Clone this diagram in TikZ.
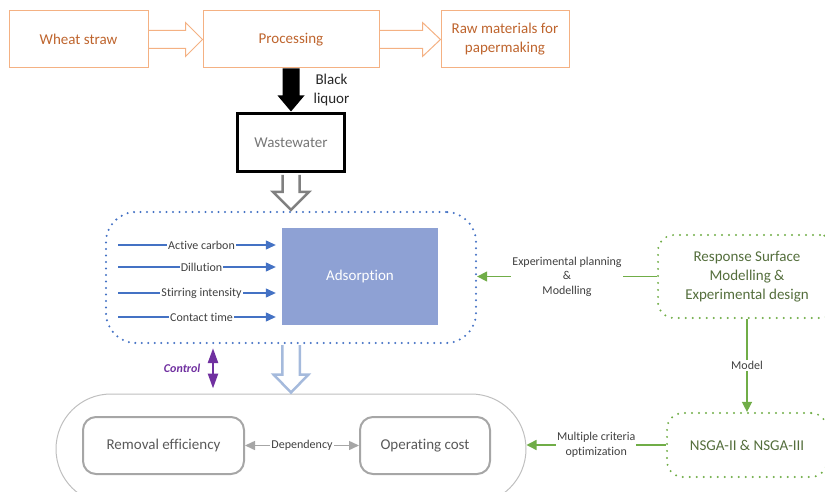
\documentclass[tikz,border=0pt]{standalone}
\usepackage{fontspec}
\setmainfont{Carlito}[Ligatures=NoCommon]
\usetikzlibrary{arrows.meta,calc}
\definecolor{oline}{RGB}{244,177,131}
\definecolor{otext}{RGB}{190,100,45}
\definecolor{wwtext}{RGB}{118,118,118}
\definecolor{adsfill}{RGB}{142,161,212}
\definecolor{blueline}{RGB}{68,114,196}
\definecolor{lbltext}{RGB}{64,64,64}
\definecolor{gline}{RGB}{112,173,71}
\definecolor{gtext}{RGB}{84,110,60}
\definecolor{bigline}{RGB}{191,191,191}
\definecolor{boxgrey}{RGB}{166,166,166}
\definecolor{boxtext}{RGB}{89,89,89}
\definecolor{ctrlc}{RGB}{112,48,160}
\definecolor{lblue}{RGB}{165,186,220}
\definecolor{garrow}{RGB}{128,128,128}
\tikzset{
  mainfont/.style={font=\fontsize{15}{19}\selectfont},
  smallfont/.style={font=\fontsize{12}{14.5}\selectfont},
  obox/.style={draw=oline, line width=1pt, text=otext, mainfont, align=center, inner sep=0pt},
  oarrow/.style={draw=oline, line width=1pt},
  param/.style={draw=blueline, line width=1.2pt, -{Triangle[length=10pt,width=9pt]}, shorten >=6pt},
  plabel/.style={fill=white, inner sep=1pt, text=lbltext, smallfont},
  gdots/.style={draw=gline, line width=2.2pt, line cap=round, dash pattern=on 0pt off 7pt, rounded corners=16pt},
  garr/.style={draw=gline, line width=1.4pt, -{Triangle[length=10pt,width=10pt]}},
  glabel/.style={fill=white, inner sep=1pt, text=lbltext, smallfont, align=center},
  gbox/.style={draw=boxgrey, line width=2pt, rounded corners=13pt, text=boxtext, mainfont},
}
\begin{document}
\begin{tikzpicture}[x=1pt,y=-1pt]
\useasboundingbox (0,0) rectangle (825,492);
\begin{scope}
\clip (0,0) rectangle (825,492);
% top row
\node[obox, minimum width=139pt, minimum height=57pt] (wheat) at (78.5,39.5) {Wheat straw};
\node[obox, minimum width=176pt, minimum height=57pt] (proc) at (291,39.5) {Processing};
\node[obox, minimum width=128pt, minimum height=57pt] (raw) at (505,39.5) {Raw materials for\\papermaking};
\draw[oarrow] ($(wheat.east)+(0,-9)$) -- ($(proc.west)+(-17,-9)$) -- ($(proc.west)+(-17,-17)$) -- (proc.west) -- ($(proc.west)+(-17,17)$) -- ($(proc.west)+(-17,9)$) -- ($(wheat.east)+(0,9)$);
\draw[oarrow] ($(proc.east)+(0,-9)$) -- ($(raw.west)+(-18,-9)$) -- ($(raw.west)+(-18,-17)$) -- (raw.west) -- ($(raw.west)+(-18,17)$) -- ($(raw.west)+(-18,9)$) -- ($(proc.east)+(0,9)$);
% wastewater
\node[draw=black, line width=3pt, minimum width=107pt, minimum height=58pt, text=wwtext, mainfont, inner sep=0pt] (ww) at (291,143) {Wastewater};
\fill[black] ($(proc.south)+(-8.5,0)$) -- ($(ww.north)+(-8.5,-17)$) -- ($(ww.north)+(-13.5,-17)$) -- ($(ww.north)+(0,-1)$) -- ($(ww.north)+(13.5,-17)$) -- ($(ww.north)+(8.5,-17)$) -- ($(proc.south)+(8.5,0)$) -- cycle;
\node[mainfont, text=black!85, align=center, inner sep=0pt] (blk) at (331.5,90) {Black\\liquor};
% adsorption group
\node[draw=blueline, line width=2.3pt, line cap=round, dash pattern=on 0pt off 6.5pt, rounded corners=30pt, minimum width=370pt, minimum height=131pt] (dotbox) at (291,277.5) {};
\draw[draw=garrow, line width=2.5pt, line join=miter] ($(ww.south)+(-8.5,1.5)$) -- ($(dotbox.north)+(-8.5,-19)$) -- ($(dotbox.north)+(-18,-19)$) -- ($(dotbox.north)+(0,-1)$) -- ($(dotbox.north)+(18,-19)$) -- ($(dotbox.north)+(8.5,-19)$) -- ($(ww.south)+(8.5,1.5)$);
\node[fill=adsfill, minimum width=156pt, minimum height=97pt, text=white, mainfont, inner sep=0pt] (ads) at (360,276.5) {Adsorption};
\coordinate (a1) at (118,245);
\coordinate (a2) at (118,267);
\coordinate (a3) at (118,293);
\coordinate (a4) at (118,317);
\draw[param] (a1) -- node[plabel, pos=0.51] {Active carbon} (ads.west |- a1);
\draw[param] (a2) -- node[plabel, pos=0.51] {Dillution} (ads.west |- a2);
\draw[param] (a3) -- node[plabel, pos=0.51] {Stirring intensity} (ads.west |- a3);
\draw[param] (a4) -- node[plabel, pos=0.51] {Contact time} (ads.west |- a4);
% right side
\node[gdots, minimum width=178pt, minimum height=83pt, text=gtext, mainfont, align=center, inner sep=0pt] (resp) at (747,276.5) {Response Surface\\Modelling \&\\Experimental design};
\node[gdots, minimum width=160pt, minimum height=64pt, text=gtext, mainfont, inner sep=0pt] (nsga) at (747,445) {NSGA-II \& NSGA-III};
\draw[garr] (resp.west) -- node[glabel] {Experimental planning\\\&\\Modelling} (dotbox.east |- resp.west);
\draw[garr] (resp.south) -- node[glabel] {Model} (nsga.north);
% bottom group
\node[draw=bigline, line width=1pt, rounded corners=54.9pt, minimum width=470pt, minimum height=110pt] (bigbox) at (291,449) {};
\draw[garr] (nsga.west) -- node[glabel] {Multiple criteria\\optimization} (bigbox.east |- nsga.west);
\node[gbox, minimum width=161pt, minimum height=57pt] (rem) at (163.5,445.5) {Removal efficiency};
\node[gbox, minimum width=130pt, minimum height=57pt] (cost) at (425,445.5) {Operating cost};
\draw[draw=boxgrey, line width=1.5pt, {Triangle[length=10pt,width=9pt]}-{Triangle[length=10pt,width=9pt]}] (rem.east) -- node[plabel] {Dependency} (cost.west);
\draw[draw=lblue, line width=2.5pt, line join=miter] ($(dotbox.south)+(-8.75,1)$) -- ($(bigbox.north)+(-8.75,-19)$) -- ($(bigbox.north)+(-17.5,-19)$) -- ($(bigbox.north)+(0,-1)$) -- ($(bigbox.north)+(17.5,-19)$) -- ($(bigbox.north)+(8.75,-19)$) -- ($(dotbox.south)+(8.75,1)$);
\coordinate (ctl) at (213,0);
\draw[draw=ctrlc, line width=2.5pt, shorten <=4pt, shorten >=5pt, {Triangle[length=15pt,width=10pt]}-{Triangle[length=15pt,width=10pt]}] (ctl |- dotbox.south) -- node[left=8pt, text=ctrlc, font=\fontsize{12}{14}\selectfont\bfseries\itshape] {Control} (ctl |- bigbox.north);
\end{scope}
\end{tikzpicture}
\end{document}
